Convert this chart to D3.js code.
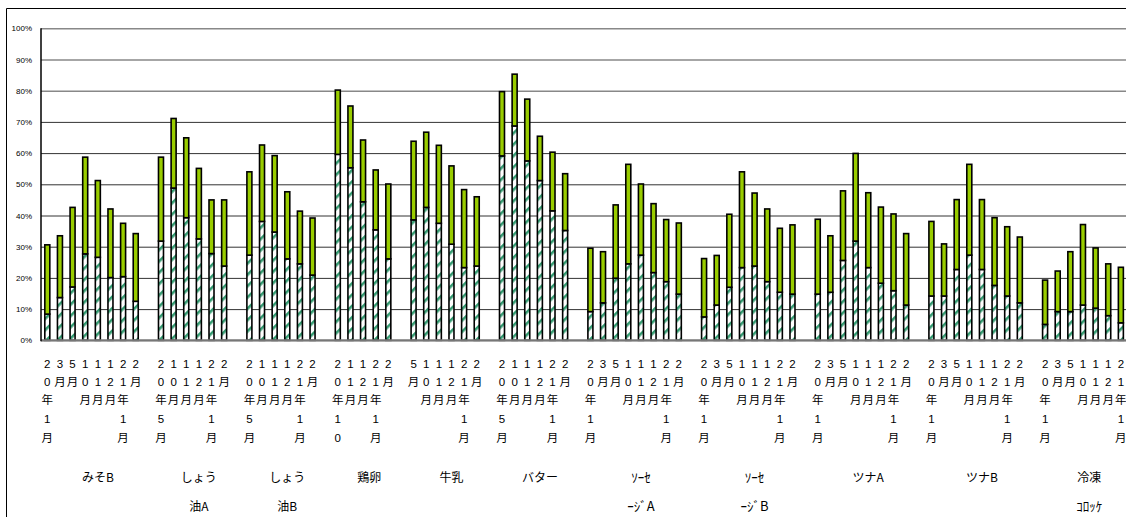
<!DOCTYPE html>
<html>
<head>
<meta charset="utf-8">
<script src="https://cdn.jsdelivr.net/npm/d3@7"></script>
<style>
    body { margin: 0; background: #fff; overflow: hidden; }
    #chart-area text { font-family: "Liberation Sans", Arial, "Noto Sans CJK JP", sans-serif; fill: #000; }
    .cat-label { font-family: "Noto Sans CJK JP", sans-serif !important; }
</style>
</head>
<body>
<div id="chart-area"></div>
<script>

// group names (line breaks as in the picture)
var groupNames = [["みそB"], ["しょう", "油A"], ["しょう", "油B"], ["鶏卵"], ["牛乳"], ["バター"],
    ["ｿｰｾ", "ｰｼﾞA"], ["ｿｰｾ", "ｰｼﾞB"], ["ツナA"], ["ツナB"], ["冷凍", "ｺﾛｯｹ"]];

// month labels per group
var monthsA = ["20年1月", "3月", "5月", "10月", "11月", "12月", "21年1月", "2月"];
var monthsB = ["20年5月", "10月", "11月", "12月", "21年1月", "2月"];
var monthsEgg = ["20年10月", "11月", "12月", "21年1月", "2月"];
var monthsMilk = ["5月", "10月", "11月", "12月", "21年1月", "2月"];
var monthsLast = ["20年1月", "3月", "5月", "10月", "11月", "12月", "21年1月"];
var groupMonths = [monthsA, monthsB, monthsB, monthsEgg, monthsMilk, monthsB,
    monthsA, monthsA, monthsA, monthsA, monthsLast];

// lower series (hatched), percent
var lowerVals = [
    [8.4, 13.7, 17.1, 27.7, 26.6, 20.1, 20.4, 12.5],
    [31.8, 48.8, 39.3, 32.5, 27.8, 23.8],
    [27.3, 38.1, 34.7, 26.1, 24.5, 20.9],
    [59.6, 55.3, 44.4, 35.4, 26.1],
    [38.6, 42.6, 37.5, 30.8, 23.3, 23.8],
    [59.1, 68.7, 57.5, 51.2, 41.5, 35.2],
    [9.2, 12.0, 19.9, 24.5, 27.3, 21.7, 18.8, 14.8],
    [7.5, 11.3, 17.0, 23.3, 23.8, 18.8, 15.4, 14.8],
    [14.8, 15.4, 25.6, 31.8, 23.3, 18.3, 15.9, 11.3],
    [14.2, 14.2, 22.7, 27.3, 22.7, 17.6, 14.2, 12.0],
    [5.1, 9.2, 9.2, 11.3, 10.3, 7.9, 5.6]
];

// upper series (green), percent
var upperVals = [
    [22.2, 19.8, 25.5, 31.0, 24.6, 22.0, 17.1, 21.7],
    [26.9, 22.3, 25.6, 22.6, 17.2, 21.2],
    [26.7, 24.5, 24.5, 21.5, 16.9, 18.3],
    [20.6, 19.8, 19.8, 19.2, 24.0],
    [25.2, 24.1, 25.0, 25.1, 25.0, 22.2],
    [20.6, 16.6, 19.8, 14.2, 18.8, 18.2],
    [20.3, 16.4, 23.5, 31.9, 22.8, 22.1, 19.9, 22.8],
    [18.7, 15.9, 23.4, 30.7, 23.4, 23.3, 20.5, 22.2],
    [24.0, 18.1, 22.3, 28.1, 24.0, 24.4, 24.6, 22.9],
    [23.9, 16.7, 22.4, 29.1, 22.4, 21.7, 22.2, 21.1],
    [14.2, 13.0, 19.2, 25.8, 19.3, 16.6, 17.8]
];

var yTicks = [0, 10, 20, 30, 40, 50, 60, 70, 80, 90, 100];


StackChart = function(_parentElement){
    this.parentElement = _parentElement;
    this.initVis();
}

StackChart.prototype.initVis = function(){
    var vis = this;

    vis.W = 1126;
    vis.H = 517;
    vis.left = 41;
    vis.top = 28.3;
    vis.bottom = 340.3;
    vis.slotW = 12.63;

    vis.svg = d3.select("#" + vis.parentElement).append("svg")
        .attr("width", vis.W)
        .attr("height", vis.H)
        .style("display", "block");

    // hatch pattern for lower series
    var pat = vis.svg.append("defs").append("pattern")
        .attr("id", "hatch")
        .attr("patternUnits", "userSpaceOnUse")
        .attr("width", 8)
        .attr("height", 8)
        .attr("patternTransform", "rotate(45)");
    pat.append("rect").attr("width", 8).attr("height", 8).attr("fill", "#fff");
    pat.append("rect").attr("width", 2.6).attr("height", 8).attr("fill", "#339a70");

    // outer frame (left and top edges; the rest runs off the picture)
    vis.svg.append("path")
        .attr("d", "M6.5," + vis.H + "V8.5H" + vis.W)
        .attr("fill", "none").attr("stroke", "#000").attr("stroke-width", 1);

    vis.y = d3.scaleLinear().domain([0, 100]).range([vis.bottom, vis.top]);

    vis.wrangleData();
}

StackChart.prototype.wrangleData = function(){
    var vis = this;

    // flat list of slots: every group gets its bars plus one empty slot
    vis.slots = [];
    vis.rows = [];
    vis.groups = [];
    groupNames.forEach(function(name, g){
        var first = vis.slots.length;
        groupMonths[g].forEach(function(m, i){
            var key = g + "_" + i;
            vis.slots.push(key);
            vis.rows.push({key: key, month: m, lower: lowerVals[g][i], upper: upperVals[g][i]});
        });
        vis.slots.push(g + "_gap");
        vis.groups.push({name: name, first: vis.slots[first], last: vis.slots[vis.slots.length - 1]});
    });

    vis.x = d3.scaleBand()
        .domain(vis.slots)
        .range([vis.left, vis.left + vis.slots.length * vis.slotW]);

    vis.stacked = d3.stack().keys(["lower", "upper"])(vis.rows);

    vis.updateVis();
}

StackChart.prototype.updateVis = function(){
    var vis = this;

    // gridlines + y labels
    var yAxis = d3.axisLeft(vis.y)
        .tickValues(yTicks)
        .tickSize(-(vis.W - vis.left))
        .tickPadding(9)
        .tickFormat(function(d){ return d + "%"; });

    var gy = vis.svg.append("g")
        .attr("transform", "translate(" + vis.left + ",0)")
        .call(yAxis);
    gy.select(".domain").remove();
    gy.selectAll(".tick line")
        .attr("stroke", function(d){ return d >= 80 ? "#888" : "#333"; })
        .attr("stroke-width", function(d){ return d >= 80 ? 1.6 : 1; });
    gy.selectAll(".tick text")
        .style("font-size", "8px");

    // bars
    var bw = 5;
    var fills = ["url(#hatch)", "#99cc00"];
    vis.svg.selectAll(".layer")
        .data(vis.stacked)
        .enter().append("g")
        .attr("class", "layer")
        .attr("fill", function(d, i){ return fills[i]; })
        .selectAll("rect")
        .data(function(d){ return d; })
        .enter().append("rect")
        .attr("x", function(d){ return vis.x(d.data.key) + vis.x.bandwidth() / 2 - bw / 2; })
        .attr("y", function(d){ return vis.y(d[1]); })
        .attr("width", bw)
        .attr("height", function(d){ return vis.y(d[0]) - vis.y(d[1]); })
        .attr("stroke", "#000")
        .attr("stroke-width", 1.6);

    // baseline and y axis line
    vis.svg.append("line")
        .attr("x1", vis.left).attr("x2", vis.W)
        .attr("y1", vis.y(0)).attr("y2", vis.y(0))
        .attr("stroke", "#777").attr("stroke-width", 2);
    vis.svg.append("line")
        .attr("x1", vis.left).attr("x2", vis.left)
        .attr("y1", vis.y(100)).attr("y2", vis.y(0) + 1)
        .attr("stroke", "#000").attr("stroke-width", 1.5);

    // month labels, one character per line (max 5 lines)
    var rowY = [368, 386, 404, 423, 442];
    vis.rows.forEach(function(r){
        var cx = vis.x(r.key) + vis.x.bandwidth() / 2;
        Array.from(r.month).slice(0, 5).forEach(function(ch, k){
            vis.svg.append("text")
                .attr("x", cx)
                .attr("y", rowY[k])
                .attr("text-anchor", "middle")
                .style("font-size", "11.5px")
                .text(ch);
        });
    });

    // group labels
    vis.groups.forEach(function(g){
        var cx = (vis.x(g.first) + vis.x(g.last) + vis.x.bandwidth()) / 2;
        g.name.forEach(function(line, k){
            // half-width kana lines are drawn a little larger, as in the picture
            var half = /[\uFF61-\uFF9F]/.test(line);
            vis.svg.append("text")
                .attr("class", "cat-label")
                .attr("x", cx)
                .attr("y", 482 + k * 29)
                .attr("text-anchor", "middle")
                .style("font-size", half ? "13px" : "12px")
                .text(line);
        });
    });
}

var chart = new StackChart("chart-area");

</script>
</body>
</html>
